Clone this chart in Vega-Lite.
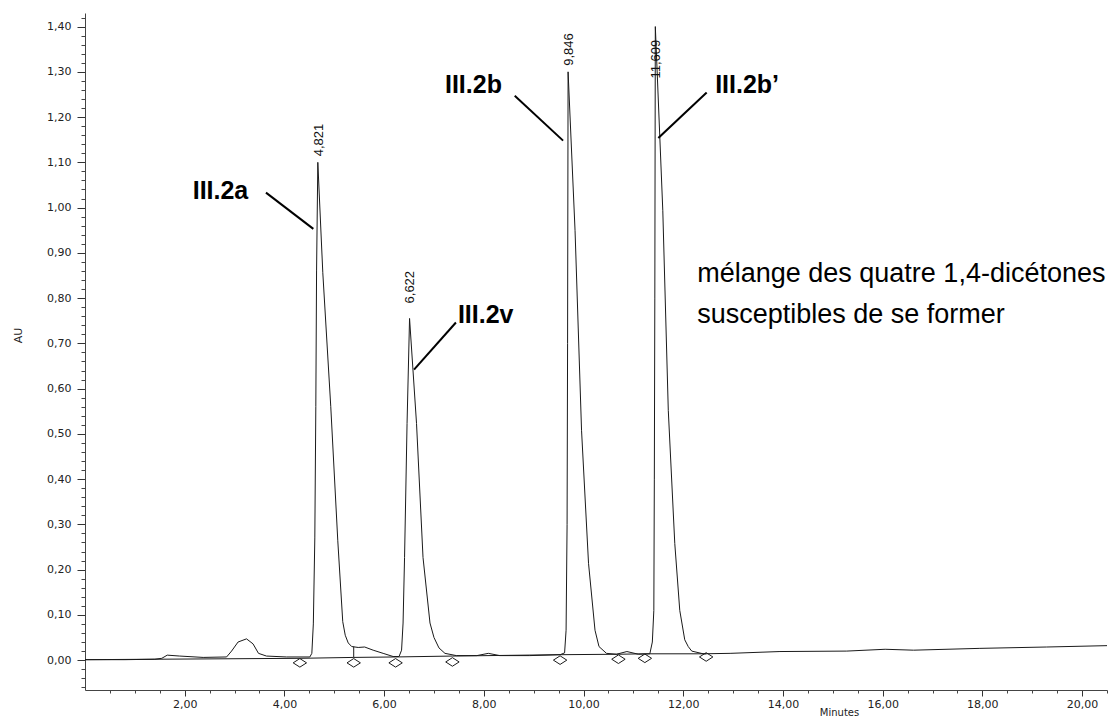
{
  "$schema": "https://vega.github.io/schema/vega-lite/v6.json",
  "width": 1022,
  "height": 677,
  "autosize": {"type": "none"},
  "padding": {"left": 85, "top": 13, "right": 3, "bottom": 30},
  "background": "white",
  "config": {"view": {"stroke": null}, "font": "Liberation Sans"},
  "datasets": {
    "trace": [
      {"t": 0.0, "au": 0.001}, {"t": 0.8, "au": 0.001}, {"t": 1.4, "au": 0.002}, {"t": 1.54, "au": 0.004},
      {"t": 1.65, "au": 0.011}, {"t": 1.9, "au": 0.009}, {"t": 2.37, "au": 0.006}, {"t": 2.84, "au": 0.007},
      {"t": 2.94, "au": 0.02}, {"t": 3.07, "au": 0.04}, {"t": 3.24, "au": 0.047}, {"t": 3.37, "au": 0.036},
      {"t": 3.48, "au": 0.015}, {"t": 3.64, "au": 0.009}, {"t": 4.04, "au": 0.007}, {"t": 4.51, "au": 0.007},
      {"t": 4.55, "au": 0.015}, {"t": 4.58, "au": 0.08}, {"t": 4.61, "au": 0.27}, {"t": 4.63, "au": 0.56},
      {"t": 4.645, "au": 0.86}, {"t": 4.67, "au": 1.1}, {"t": 4.77, "au": 0.856}, {"t": 4.93, "au": 0.56},
      {"t": 5.07, "au": 0.265}, {"t": 5.17, "au": 0.085}, {"t": 5.22, "au": 0.055}, {"t": 5.28, "au": 0.038},
      {"t": 5.35, "au": 0.03}, {"t": 5.48, "au": 0.028}, {"t": 5.61, "au": 0.029}, {"t": 5.78, "au": 0.022},
      {"t": 5.98, "au": 0.015}, {"t": 6.18, "au": 0.008}, {"t": 6.3, "au": 0.008}, {"t": 6.35, "au": 0.022},
      {"t": 6.38, "au": 0.082}, {"t": 6.41, "au": 0.227}, {"t": 6.46, "au": 0.523}, {"t": 6.51, "au": 0.755},
      {"t": 6.65, "au": 0.523}, {"t": 6.78, "au": 0.227}, {"t": 6.92, "au": 0.082}, {"t": 7.0, "au": 0.05},
      {"t": 7.1, "au": 0.027}, {"t": 7.22, "au": 0.015}, {"t": 7.45, "au": 0.01}, {"t": 7.86, "au": 0.01},
      {"t": 8.09, "au": 0.015}, {"t": 8.32, "au": 0.01}, {"t": 8.92, "au": 0.01}, {"t": 9.53, "au": 0.012},
      {"t": 9.62, "au": 0.016}, {"t": 9.65, "au": 0.066}, {"t": 9.67, "au": 0.3}, {"t": 9.68, "au": 0.7},
      {"t": 9.69, "au": 1.3}, {"t": 9.83, "au": 0.949}, {"t": 9.96, "au": 0.508}, {"t": 10.1, "au": 0.214},
      {"t": 10.23, "au": 0.066}, {"t": 10.31, "au": 0.03}, {"t": 10.46, "au": 0.015}, {"t": 10.66, "au": 0.013},
      {"t": 10.87, "au": 0.019}, {"t": 11.1, "au": 0.013}, {"t": 11.33, "au": 0.014}, {"t": 11.38, "au": 0.04},
      {"t": 11.41, "au": 0.11}, {"t": 11.42, "au": 0.4}, {"t": 11.43, "au": 0.8}, {"t": 11.44, "au": 1.4},
      {"t": 11.59, "au": 0.993}, {"t": 11.7, "au": 0.552}, {"t": 11.83, "au": 0.258}, {"t": 11.93, "au": 0.11},
      {"t": 12.03, "au": 0.045}, {"t": 12.1, "au": 0.03}, {"t": 12.17, "au": 0.02}, {"t": 12.4, "au": 0.014},
      {"t": 12.94, "au": 0.015}, {"t": 13.94, "au": 0.019}, {"t": 15.28, "au": 0.02}, {"t": 16.05, "au": 0.024},
      {"t": 16.62, "au": 0.022}, {"t": 17.95, "au": 0.026}, {"t": 19.29, "au": 0.029}, {"t": 20.5, "au": 0.032}
    ],
    "baseline": [
      {"t": 0.0, "au": 0.001}, {"t": 4.31, "au": 0.004}, {"t": 5.39, "au": 0.006}, {"t": 6.23, "au": 0.007},
      {"t": 7.37, "au": 0.009}, {"t": 9.53, "au": 0.012}, {"t": 10.7, "au": 0.013}, {"t": 11.23, "au": 0.014},
      {"t": 12.46, "au": 0.014}
    ],
    "drop": [{"t": 5.39, "au": 0.006, "au2": 0.03}],
    "markers": [
      {"t": 4.31, "au": -0.006}, {"t": 5.39, "au": -0.006}, {"t": 6.23, "au": -0.006}, {"t": 7.37, "au": -0.004},
      {"t": 9.53, "au": 0.0}, {"t": 10.7, "au": 0.002}, {"t": 11.23, "au": 0.004}, {"t": 12.46, "au": 0.007}
    ],
    "peaks": [
      {"t": 4.67, "au": 1.1, "label": "4,821"},
      {"t": 6.51, "au": 0.755, "label": "6,622"},
      {"t": 9.69, "au": 1.3, "label": "9,846"},
      {"t": 11.44, "au": 1.4, "label": "11,609"}
    ],
    "names": [
      {"t": 2.16, "au": 1.02, "text": "III.2a"},
      {"t": 7.48, "au": 0.744, "text": "III.2v"},
      {"t": 7.22, "au": 1.253, "text": "III.2b"},
      {"t": 12.64, "au": 1.253, "text": "III.2b’"}
    ],
    "notes": [
      {"t": 12.28, "au": 0.835, "text": "mélange des quatre 1,4-dicétones"},
      {"t": 12.28, "au": 0.744, "text": "susceptibles de se former"}
    ],
    "leaders": [
      {"t": 3.63, "au": 1.033, "t2": 4.58, "au2": 0.953},
      {"t": 7.44, "au": 0.746, "t2": 6.6, "au2": 0.642},
      {"t": 8.62, "au": 1.247, "t2": 9.59, "au2": 1.148},
      {"t": 12.47, "au": 1.2545, "t2": 11.5, "au2": 1.154}
    ]
  },
  "layer": [
    {
      "data": {"name": "trace"},
      "mark": {"type": "line", "color": "#1a1a1a", "strokeWidth": 1, "interpolate": "linear"},
      "encoding": {
        "x": {"field": "t", "type": "quantitative", "scale": {"domain": [0, 20.5], "nice": false, "zero": false},
          "axis": {"values": [2, 4, 6, 8, 10, 12, 14, 16, 18, 20], "labelExpr": "replace(format(datum.value, '.2f'), '.', ',')",
            "grid": false, "tickSize": 6, "tickColor": "#333", "domainColor": "#444", "labelFont": "DejaVu Sans", "labelFontSize": 11,
            "labelColor": "#222", "labelPadding": 2, "title": "Minutes", "titleX": 754, "titleY": 22, "titleBaseline": "middle",
            "titleFont": "DejaVu Sans", "titleFontSize": 10, "titleFontWeight": "normal", "titleColor": "#222"}},
        "y": {"field": "au", "type": "quantitative", "scale": {"domain": [-0.066, 1.43], "nice": false, "zero": false},
          "axis": {"values": [0, 0.1, 0.2, 0.3, 0.4, 0.5, 0.6, 0.7, 0.8, 0.9, 1.0, 1.1, 1.2, 1.3, 1.4],
            "labelExpr": "replace(format(datum.value, '.2f'), '.', ',')", "grid": false, "tickSize": 8, "tickColor": "#333",
            "domainColor": "#444", "labelFont": "DejaVu Sans", "labelFontSize": 11, "labelColor": "#222", "labelPadding": 6,
            "title": "AU", "titleX": -62, "titleY": 322, "titleFont": "DejaVu Sans", "titleFontSize": 11,
            "titleFontWeight": "normal", "titleColor": "#222"}}
      }
    },
    {
      "data": {"name": "baseline"},
      "mark": {"type": "line", "color": "#1a1a1a", "strokeWidth": 1},
      "encoding": {
        "x": {"field": "t", "type": "quantitative", "scale": {"domain": [0, 20.5], "nice": false, "zero": false},
          "axis": {"values": [0.5, 1, 1.5, 2.5, 3, 3.5, 4.5, 5, 5.5, 6.5, 7, 7.5, 8.5, 9, 9.5, 10.5, 11, 11.5, 12.5, 13, 13.5, 14.5, 15, 15.5, 16.5, 17, 17.5, 18.5, 19, 19.5, 20.5],
            "labels": false, "domain": false, "grid": false, "tickSize": 3, "tickColor": "#444", "title": null, "orient": "bottom"}},
        "y": {"field": "au", "type": "quantitative", "scale": {"domain": [-0.066, 1.43], "nice": false, "zero": false},
          "axis": {"values": [-0.06, -0.04, -0.02, 0.02, 0.04, 0.06, 0.08, 0.12, 0.14, 0.16, 0.18, 0.22, 0.24, 0.26, 0.28, 0.32, 0.34, 0.36, 0.38, 0.42, 0.44, 0.46, 0.48, 0.52, 0.54, 0.56, 0.58, 0.62, 0.64, 0.66, 0.68, 0.72, 0.74, 0.76, 0.78, 0.82, 0.84, 0.86, 0.88, 0.92, 0.94, 0.96, 0.98, 1.02, 1.04, 1.06, 1.08, 1.12, 1.14, 1.16, 1.18, 1.22, 1.24, 1.26, 1.28, 1.32, 1.34, 1.36, 1.38, 1.42],
            "labels": false, "domain": false, "grid": false, "tickSize": 4, "tickColor": "#444", "title": null, "orient": "left"}}
      }
    },
    {
      "data": {"name": "drop"},
      "mark": {"type": "rule", "color": "#1a1a1a", "strokeWidth": 1},
      "encoding": {
        "x": {"field": "t", "type": "quantitative", "scale": {"domain": [0, 20.5], "nice": false, "zero": false}, "axis": null},
        "y": {"field": "au", "type": "quantitative", "scale": {"domain": [-0.066, 1.43], "nice": false, "zero": false}, "axis": null},
        "y2": {"field": "au2"}
      }
    },
    {
      "data": {"name": "markers"},
      "mark": {"type": "point", "shape": "M-1,0L0,-0.64L1,0L0,0.64Z", "size": 180, "filled": false, "stroke": "#1a1a1a", "strokeWidth": 1, "opacity": 1},
      "encoding": {
        "x": {"field": "t", "type": "quantitative", "scale": {"domain": [0, 20.5], "nice": false, "zero": false}, "axis": null},
        "y": {"field": "au", "type": "quantitative", "scale": {"domain": [-0.066, 1.43], "nice": false, "zero": false}, "axis": null}
      }
    },
    {
      "data": {"name": "peaks"},
      "transform": [{"filter": "datum.label == '4,821' || datum.label == '9,846'"}],
      "mark": {"type": "text", "angle": 270, "align": "left", "baseline": "middle", "dx": 6, "dy": 1, "font": "Liberation Sans", "fontSize": 13, "color": "#111"},
      "encoding": {
        "x": {"field": "t", "type": "quantitative", "scale": {"domain": [0, 20.5], "nice": false, "zero": false}, "axis": null},
        "y": {"field": "au", "type": "quantitative", "scale": {"domain": [-0.066, 1.43], "nice": false, "zero": false}, "axis": null},
        "text": {"field": "label"}
      }
    },
    {
      "data": {"name": "peaks"},
      "transform": [{"filter": "datum.label == '6,622'"}],
      "mark": {"type": "text", "angle": 270, "align": "left", "baseline": "middle", "dx": 15, "dy": 0, "font": "Liberation Sans", "fontSize": 13, "color": "#111"},
      "encoding": {
        "x": {"field": "t", "type": "quantitative", "scale": {"domain": [0, 20.5], "nice": false, "zero": false}, "axis": null},
        "y": {"field": "au", "type": "quantitative", "scale": {"domain": [-0.066, 1.43], "nice": false, "zero": false}, "axis": null},
        "text": {"field": "label"}
      }
    },
    {
      "data": {"name": "peaks"},
      "transform": [{"filter": "datum.label == '11,609'"}],
      "mark": {"type": "text", "angle": 270, "align": "left", "baseline": "middle", "dx": -52, "dy": 1, "font": "Liberation Sans", "fontSize": 13, "color": "#111"},
      "encoding": {
        "x": {"field": "t", "type": "quantitative", "scale": {"domain": [0, 20.5], "nice": false, "zero": false}, "axis": null},
        "y": {"field": "au", "type": "quantitative", "scale": {"domain": [-0.066, 1.43], "nice": false, "zero": false}, "axis": null},
        "text": {"field": "label"}
      }
    },
    {
      "data": {"name": "leaders"},
      "mark": {"type": "rule", "color": "#000", "strokeWidth": 2},
      "encoding": {
        "x": {"field": "t", "type": "quantitative", "scale": {"domain": [0, 20.5], "nice": false, "zero": false}, "axis": null},
        "y": {"field": "au", "type": "quantitative", "scale": {"domain": [-0.066, 1.43], "nice": false, "zero": false}, "axis": null},
        "x2": {"field": "t2"},
        "y2": {"field": "au2"}
      }
    },
    {
      "data": {"name": "names"},
      "mark": {"type": "text", "align": "left", "baseline": "alphabetic", "font": "Liberation Sans", "fontWeight": "bold", "fontSize": 25, "color": "#000"},
      "encoding": {
        "x": {"field": "t", "type": "quantitative", "scale": {"domain": [0, 20.5], "nice": false, "zero": false}, "axis": null},
        "y": {"field": "au", "type": "quantitative", "scale": {"domain": [-0.066, 1.43], "nice": false, "zero": false}, "axis": null},
        "text": {"field": "text"}
      }
    },
    {
      "data": {"name": "notes"},
      "mark": {"type": "text", "align": "left", "baseline": "alphabetic", "font": "Liberation Sans", "fontSize": 27, "color": "#000"},
      "encoding": {
        "x": {"field": "t", "type": "quantitative", "scale": {"domain": [0, 20.5], "nice": false, "zero": false}, "axis": null},
        "y": {"field": "au", "type": "quantitative", "scale": {"domain": [-0.066, 1.43], "nice": false, "zero": false}, "axis": null},
        "text": {"field": "text"}
      }
    }
  ],
  "resolve": {"axis": {"x": "independent", "y": "independent"}}
}
